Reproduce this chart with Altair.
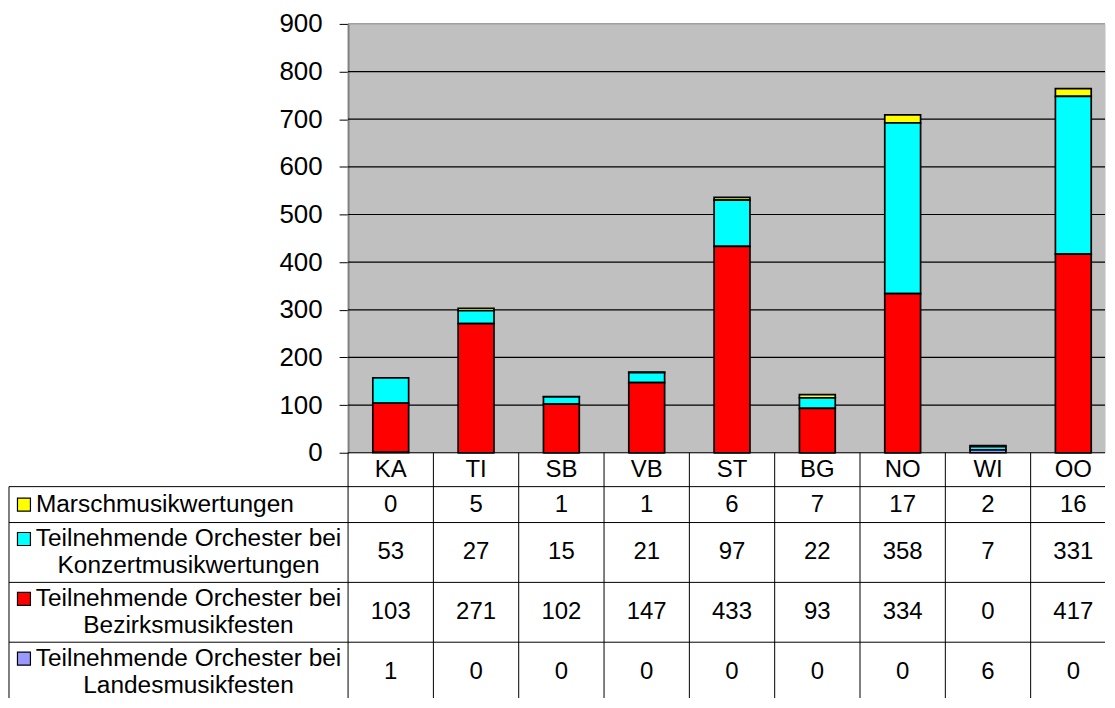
import altair as alt
import pandas as pd

categories = ["KA", "TI", "SB", "VB", "ST", "BG", "NO", "WI", "OO"]
series_labels = [
    "Marschmusikwertungen",
    "Teilnehmende Orchester bei\nKonzertmusikwertungen",
    "Teilnehmende Orchester bei\nBezirksmusikfesten",
    "Teilnehmende Orchester bei\nLandesmusikfesten",
]
series_colors = ["#FFFF00", "#00FFFF", "#FF0000", "#9999FF"]
marsch = [0, 5, 1, 1, 6, 7, 17, 2, 16]
konzert = [53, 27, 15, 21, 97, 22, 358, 7, 331]
bezirk = [103, 271, 102, 147, 433, 93, 334, 0, 417]
landes = [1, 0, 0, 0, 0, 0, 0, 6, 0]
y_ticks = [0, 100, 200, 300, 400, 500, 600, 700, 800, 900]

series_values = [marsch, konzert, bezirk, landes]

FONT = "Liberation Sans"
PLOT_W, PLOT_H = 759, 430
X_RANGE = 770          # band range (last column runs past the visible edge)
LABEL_COL_W = 340
HEADER_H = 34
LINE_H = 27
TABLE_H = 246

# stacked bar data: table rows top->bottom = stack top->bottom
bar_rows = []
n_series = len(series_labels)
for s, (lab, vals) in enumerate(zip(series_labels, series_values)):
    for c, v in zip(categories, vals):
        bar_rows.append({"cat": c, "series": lab, "value": v, "stack": n_series - 1 - s})
bars_df = pd.DataFrame(bar_rows)
grid_df = pd.DataFrame({"value": y_ticks})

# data table layout (row heights from number of text lines)
row_bounds = []
top = HEADER_H
for lab in series_labels:
    n = lab.count("\n") + 1
    h = 36 if n == 1 else 60
    row_bounds.append((top, top + h, n))
    top += h

cells = [{"col": c, "text": c, "ymid": HEADER_H / 2} for c in categories]
labels = []
for lab, vals, (t, b, n) in zip(series_labels, series_values, row_bounds):
    mid = (t + b) / 2
    for c, v in zip(categories, vals):
        cells.append({"col": c, "text": str(v), "ymid": mid})
    labels.append({"series": lab, "ymid": mid, "lines": n,
                   "yfirst": mid - (n - 1) * LINE_H / 2})
cells_df = pd.DataFrame(cells)
labels_df = pd.DataFrame(labels)
hlines_df = pd.DataFrame({"y": [t for (t, b, n) in row_bounds]})
vlines_df = pd.DataFrame({"col": categories, "y0": [0] * len(categories),
                          "y1": [TABLE_H] * len(categories)})
border_df = pd.DataFrame({"y0": [HEADER_H], "y1": [TABLE_H]})

color_scale = alt.Scale(domain=series_labels, range=series_colors)
yscale = alt.Scale(domain=[0, 900], nice=False)
yaxis = alt.Axis(values=y_ticks, title=None, format="d",
                 labelFont=FONT, labelFontSize=26, labelColor="black",
                 labelPadding=17, tickSize=9, tickColor="black",
                 tickWidth=1, grid=False,
                 domainColor="#808080", domainWidth=2)

grid = alt.Chart(grid_df).mark_rule(strokeWidth=1.2).encode(
    x=alt.value(0), x2=alt.value("width"),
    y=alt.Y("value:Q", scale=yscale, axis=yaxis),
    color=alt.condition("datum.value == 900", alt.value("#808080"), alt.value("black")))

bars = alt.Chart(bars_df).mark_bar(stroke="black", strokeWidth=1.7).encode(
    x=alt.X("cat:N", sort=categories,
            scale=alt.Scale(domain=categories, range=[0, X_RANGE],
                            paddingInner=0.58, paddingOuter=0.29),
            axis=None),
    y=alt.Y("value:Q", stack="zero", scale=yscale, axis=yaxis),
    color=alt.Color("series:N", scale=color_scale, legend=None),
    order=alt.Order("stack:Q", sort="ascending"),
)

top_chart = alt.layer(grid, bars).properties(
    width=PLOT_W, height=PLOT_H,
    view=alt.ViewBackground(fill="#C0C0C0", stroke="transparent"))

tx = alt.Scale(type="band", domain=categories, range=[0, X_RANGE],
               paddingInner=0, paddingOuter=0)
ty = alt.Scale(domain=[0, TABLE_H], reverse=True, nice=False, zero=False)

vlines = alt.Chart(vlines_df).mark_rule(color="black", strokeWidth=1).encode(
    x=alt.X("col:N", scale=tx, bandPosition=0, axis=None),
    y=alt.Y("y0:Q", scale=ty, axis=None), y2="y1:Q")

left_border = alt.Chart(border_df).mark_rule(color="black", strokeWidth=1).encode(
    x=alt.value(-LABEL_COL_W),
    y=alt.Y("y0:Q", scale=ty, axis=None), y2="y1:Q")

hlines = alt.Chart(hlines_df).mark_rule(color="black", strokeWidth=1).encode(
    x=alt.value(-LABEL_COL_W), x2=alt.value("width"),
    y=alt.Y("y:Q", scale=ty, axis=None))

cell_text = alt.Chart(cells_df).mark_text(
    font=FONT, fontSize=24, color="black", baseline="middle", align="center"
).encode(
    x=alt.X("col:N", scale=tx, axis=None),
    y=alt.Y("ymid:Q", scale=ty, axis=None),
    text="text:N")

lab1 = alt.Chart(labels_df).transform_filter("datum.lines == 1").mark_text(
    font=FONT, fontSize=24.5, color="black", baseline="middle", align="left"
).encode(
    x=alt.value(-313),
    y=alt.Y("yfirst:Q", scale=ty, axis=None),
    text="series:N")

lab2 = alt.Chart(labels_df).transform_filter("datum.lines > 1").mark_text(
    font=FONT, fontSize=24.5, color="black", baseline="middle", align="center",
    lineBreak="\n", lineHeight=LINE_H
).encode(
    x=alt.value(-160),
    y=alt.Y("yfirst:Q", scale=ty, axis=None),
    text="series:N")

squares = alt.Chart(labels_df).mark_square(
    size=169, filled=True, stroke="black", strokeWidth=1.2, opacity=1
).encode(
    x=alt.value(-325),
    y=alt.Y("yfirst:Q", scale=ty, axis=None),
    fill=alt.Fill("series:N", scale=color_scale, legend=None))

table = alt.layer(vlines, left_border, hlines, cell_text, lab1, lab2, squares).properties(
    width=PLOT_W, height=TABLE_H,
    view=alt.ViewBackground(stroke="transparent"))

chart = alt.vconcat(top_chart, table, spacing=0, bounds="flush").resolve_scale(
    x="independent", y="independent"
).properties(
    padding={"left": 0, "top": 1, "right": 0, "bottom": 0}
).configure_view(stroke="transparent")

chart.save("out.html", embed_options={"renderer": "svg", "actions": False})
